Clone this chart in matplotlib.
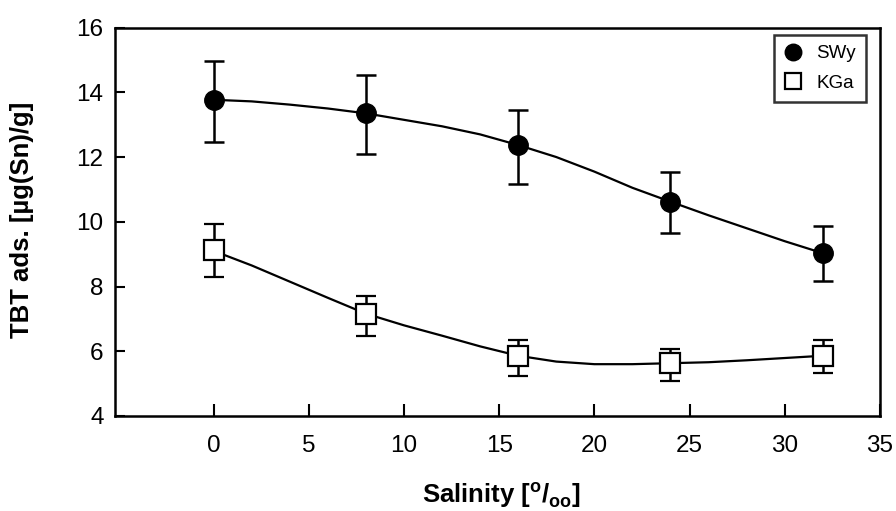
import matplotlib
matplotlib.use('Agg')
import matplotlib.pyplot as plt

plt.rcParams['font.family'] = ['Liberation Sans', 'DejaVu Sans']
plt.rcParams['mathtext.fontset'] = 'custom'
plt.rcParams['mathtext.rm'] = 'Liberation Sans:bold'
plt.rcParams['mathtext.bf'] = 'Liberation Sans:bold'

# measured points
salinity = [0, 8, 16, 24, 32]
swy = [13.77, 13.35, 12.37, 10.62, 9.03]
swy_lo = [12.48, 12.10, 11.17, 9.65, 8.17]
swy_hi = [14.97, 14.53, 13.46, 11.53, 9.87]
kga = [9.13, 7.16, 5.86, 5.63, 5.86]
kga_lo = [8.30, 6.47, 5.23, 5.08, 5.33]
kga_hi = [9.92, 7.72, 6.34, 6.06, 6.34]

# fitted curves
fit_x = [0, 2, 4, 6, 8, 10, 12, 14, 16, 18, 20, 22, 24, 26, 28, 30, 32]
swy_fit = [13.77, 13.72, 13.62, 13.50, 13.35, 13.15, 12.95, 12.70, 12.37,
           12.00, 11.55, 11.05, 10.62, 10.20, 9.80, 9.40, 9.03]
kga_fit = [9.10, 8.65, 8.15, 7.65, 7.16, 6.80, 6.48, 6.15, 5.86,
           5.68, 5.60, 5.60, 5.63, 5.66, 5.72, 5.79, 5.86]

fig = plt.figure(figsize=(8.96, 5.11), dpi=100)
ax = fig.add_axes([0.128, 0.186, 0.854, 0.760])

ax.plot(fit_x, swy_fit, color='black', lw=1.6, zorder=2)
ax.plot(fit_x, kga_fit, color='black', lw=1.6, zorder=2)

swy_err = [[v - l for v, l in zip(swy, swy_lo)], [h - v for v, h in zip(swy, swy_hi)]]
kga_err = [[v - l for v, l in zip(kga, kga_lo)], [h - v for v, h in zip(kga, kga_hi)]]

ax.errorbar(salinity, swy, yerr=swy_err, fmt='o', color='black', ms=14,
            capsize=7, elinewidth=1.8, capthick=1.8, label='SWy', zorder=3)
ax.errorbar(salinity, kga, yerr=kga_err, fmt='s', color='black', mfc='white',
            mec='black', mew=1.6, ms=14, capsize=7, elinewidth=1.8,
            capthick=1.8, label='KGa', zorder=3)

ax.set_xlim(-5.2, 35)
ax.set_ylim(4, 16)
ax.set_xticks([0, 5, 10, 15, 20, 25, 30, 35])
ax.set_yticks([4, 6, 8, 10, 12, 14, 16])
ax.tick_params(axis='x', direction='in', length=9, width=1.5, pad=14, labelsize=17.5)
ax.tick_params(axis='y', direction='in', length=7, width=1.5, pad=8, labelsize=17.5)
for s in ax.spines.values():
    s.set_linewidth(1.8)

ax.set_xlabel(r'Salinity [$^{\mathrm{o}}/_{\mathrm{oo}}$]', fontsize=18.5,
              fontweight='bold')
ax.set_ylabel('TBT ads. [µg(Sn)/g]', fontsize=18.5, fontweight='bold')
ax.xaxis.set_label_coords(0.506, -0.165)
ax.yaxis.set_label_coords(-0.105, 0.505)

handles, labels = ax.get_legend_handles_labels()
handles = [h[0] for h in handles]
leg = ax.legend(handles, labels, loc='upper right', fontsize=13.5, frameon=True,
                fancybox=False, edgecolor='black', handlelength=0.9,
                handletextpad=0.8, borderpad=0.55, labelspacing=0.65,
                borderaxespad=0, bbox_to_anchor=(0.982, 0.981), markerscale=0.85)
leg.get_frame().set_linewidth(1.8)

fig.savefig('out.png', dpi=100)
